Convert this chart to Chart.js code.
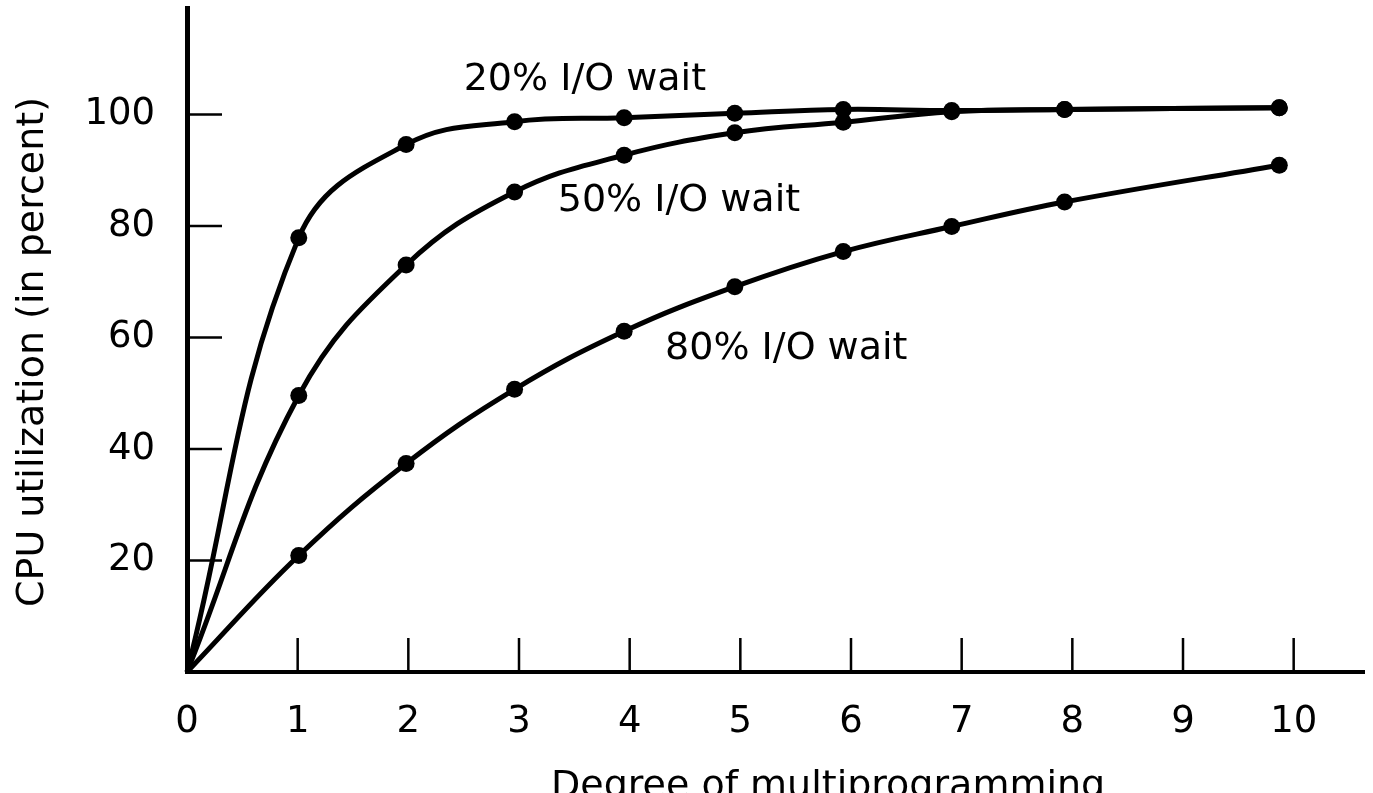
<!DOCTYPE html>
<html>
<head>
<meta charset="utf-8">
<title>CPU utilization vs degree of multiprogramming</title>
<script src="https://cdn.jsdelivr.net/npm/chart.js@4.4.1/dist/chart.umd.min.js"></script>
<style>
  html, body { margin: 0; padding: 0; background: #fff; overflow: hidden; }
  #wrap { position: relative; width: 1373px; height: 793px; }
</style>
</head>
<body>
<div id="wrap"><canvas id="cpuChart"></canvas></div>
<script>
// degree of multiprogramming, as the dots sit in the drawing (a bit left of the ticks)
const degree = [0, 1.01, 1.98, 2.96, 3.95, 4.95, 5.93, 6.91, 7.93, 9.87];
// CPU utilization (in percent) per curve
const wait20 = [0, 77.9, 94.6, 98.7, 99.4, 100.2, 100.9, 100.7, 100.9, 101.2];
const wait50 = [0, 49.6, 73.0, 86.1, 92.7, 96.7, 98.6, 100.5, 100.9, 101.2];
const wait80 = [0, 20.9, 37.4, 50.7, 61.1, 69.1, 75.4, 79.9, 84.3, 90.9];
const seriesNames = ['20% I/O wait', '50% I/O wait', '80% I/O wait'];
const xTicks = [0, 1, 2, 3, 4, 5, 6, 7, 8, 9, 10];
const yTicks = [20, 40, 60, 80, 100];

// where the curve names sit, in axis units (left edge, baseline)
const curveLabelPos = [
  { x: 2.50, y: 104.3 },
  { x: 3.35, y: 82.7 },
  { x: 4.32, y: 56.1 }
];

Chart.defaults.font.family = '"DejaVu Sans", sans-serif';
Chart.defaults.color = '#000';

function toPoints(values) {
  return values.map((v, i) => ({ x: degree[i], y: v }));
}

function lineSet(label, values) {
  return {
    label: label,
    data: toPoints(values),
    borderColor: '#000',
    backgroundColor: '#000',
    borderWidth: 5,
    tension: 0.4,
    pointRadius: c => (c.parsed && c.parsed.x === 0 ? 0 : 8.5),
    pointBorderWidth: 0,
    pointHoverRadius: 8.5,
    clip: false
  };
}

// inward tick marks, axis titles and the curve names
const axisDecor = {
  id: 'axisDecor',
  beforeDatasetsDraw(chart) {
    const { ctx, chartArea, scales: { x, y } } = chart;
    ctx.save();
    ctx.strokeStyle = '#000';
    ctx.lineWidth = 2.5;
    ctx.beginPath();
    x.ticks.forEach(t => {
      if (t.value === 0) return;
      const px = x.getPixelForValue(t.value);
      ctx.moveTo(px, chartArea.bottom);
      ctx.lineTo(px, chartArea.bottom - 34);
    });
    y.ticks.forEach(t => {
      const py = y.getPixelForValue(t.value);
      ctx.moveTo(chartArea.left, py);
      ctx.lineTo(chartArea.left + 35, py);
    });
    ctx.stroke();
    ctx.restore();
  },
  afterDraw(chart) {
    const { ctx, scales: { x, y } } = chart;
    ctx.save();
    ctx.fillStyle = '#000';
    ctx.font = '38px "DejaVu Sans"';

    ctx.textAlign = 'left';
    ctx.textBaseline = 'alphabetic';
    seriesNames.forEach((name, i) => {
      const p = curveLabelPos[i];
      ctx.fillText(name, x.getPixelForValue(p.x), y.getPixelForValue(p.y));
    });

    // x title, partly below the bottom edge as in the figure
    ctx.fillText('Degree of multiprogramming', 551, 797);

    // y title
    ctx.translate(33.5, 352);
    ctx.rotate(-Math.PI / 2);
    ctx.textAlign = 'center';
    ctx.textBaseline = 'middle';
    ctx.fillText('CPU utilization (in percent)', 0, 0);
    ctx.restore();
  }
};

new Chart(document.getElementById('cpuChart'), {
  type: 'line',
  data: {
    datasets: [
      lineSet(seriesNames[0], wait20),
      lineSet(seriesNames[1], wait50),
      lineSet(seriesNames[2], wait80)
    ]
  },
  options: {
    responsive: true,
    maintainAspectRatio: false,
    animation: false,
    devicePixelRatio: 1,
    layout: { padding: { top: 7, right: 3, left: 0, bottom: 0 } },
    plugins: {
      legend: { display: false },
      title: { display: false },
      tooltip: { enabled: false }
    },
    scales: {
      x: {
        type: 'linear',
        min: 0,
        max: 10.64,
        afterBuildTicks: s => { s.ticks = xTicks.map(v => ({ value: v })); },
        afterFit: s => { s.height = 121; s.paddingLeft = 0; s.paddingRight = 0; },
        grid: { display: false, drawTicks: false },
        border: { display: true, color: '#000', width: 4 },
        ticks: { padding: 28, font: { size: 37 }, color: '#000', maxRotation: 0 }
      },
      y: {
        type: 'linear',
        min: 0,
        max: 119,
        afterBuildTicks: s => { s.ticks = yTicks.map(v => ({ value: v })); },
        afterFit: s => { s.width = 187; s.paddingTop = 0; s.paddingBottom = 0; },
        grid: { display: false, drawTicks: false },
        border: { display: true, color: '#000', width: 5 },
        ticks: { padding: 32, font: { size: 37 }, color: '#000' }
      }
    }
  },
  plugins: [axisDecor]
});
</script>
</body>
</html>
